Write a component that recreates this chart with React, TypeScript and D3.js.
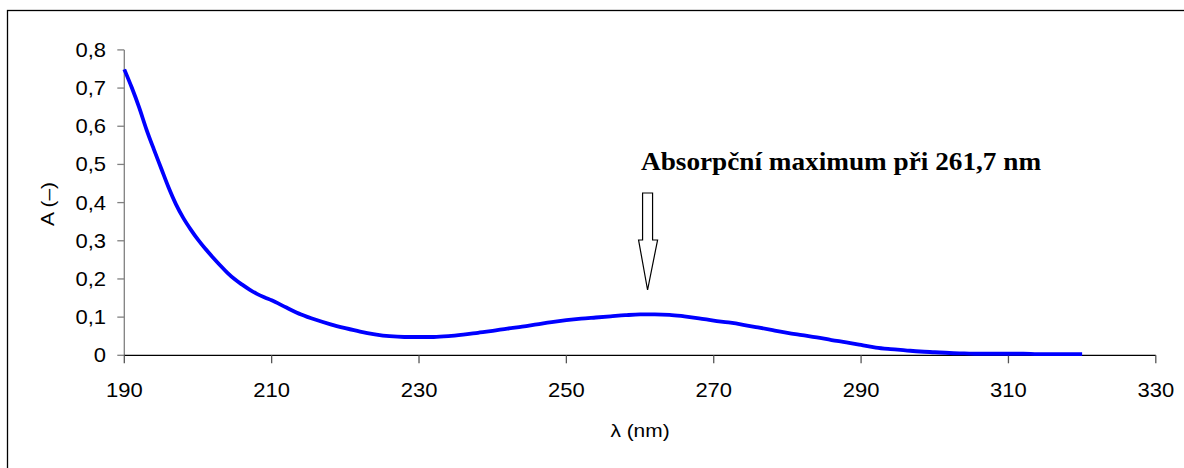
import React from "react";
import * as d3 from "d3";

const wavelengths = [190,191,192,193,194,195,196,197,198,199,200,201,202,203,204,205,206,207,208,209,210,212,214,216,218,220,222,224,226,228,230,232,234,236,238,240,242,244,246,248,250,252,254,256,258,260,262,264,266,268,270,272,274,276,278,280,282,284,286,288,290,292,294,296,298,300,302,304,306,308,310,312,314,316,318,320];
const absorbance = [0.749,0.702,0.65,0.592,0.54,0.49,0.44,0.396,0.36,0.33,0.303,0.279,0.257,0.236,0.216,0.199,0.185,0.172,0.161,0.152,0.144,0.125,0.107,0.093,0.081,0.071,0.062,0.055,0.05,0.048,0.048,0.048,0.05,0.054,0.059,0.064,0.07,0.075,0.081,0.087,0.092,0.096,0.099,0.102,0.105,0.107,0.107,0.106,0.102,0.097,0.091,0.086,0.08,0.073,0.066,0.059,0.053,0.047,0.04,0.034,0.027,0.02,0.016,0.013,0.01,0.008,0.006,0.005,0.004,0.004,0.004,0.004,0.003,0.003,0.003,0.003];
const xTicks = [190,210,230,250,270,290,310,330];
const yTicks = [0,0.1,0.2,0.3,0.4,0.5,0.6,0.7,0.8];
const annotationText = "Absorpční maximum při 261,7 nm";
const arrowAt = 261.7;

const W = 1184, H = 468;
const SX = 1.1;

export default function App() {
  const x = d3.scaleLinear().domain([190, 330]).range([124.3, 1155.8]);
  const y = d3.scaleLinear().domain([0, 0.8]).range([355.3, 49.9]);
  const pts = wavelengths.map((w, i) => [w, absorbance[i]] as [number, number]);
  const line = d3.line<[number, number]>().x(d => x(d[0])).y(d => y(d[1])).curve(d3.curveMonotoneX);
  const fmt = (v: number) => (v === 0 ? "0" : d3.format(".1f")(v).replace(".", ","));
  const ax = x(arrowAt) - 5;
  const arrow = [
    [ax - 5, 193], [ax + 5, 193], [ax + 5, 240], [ax + 10, 240], [ax, 290], [ax - 9, 240], [ax - 5, 240]
  ].map(p => p.join(",")).join(" ");
  const sans = "Arial, 'Liberation Sans', sans-serif";
  return (
    <svg width={W} height={H} style={{ position: "absolute", left: 0, top: 0, background: "#fff" }}>
      <rect x={7.5} y={10.5} width={1300} height={600} fill="#fff" stroke="#000" strokeWidth={1.3} />
      {/* y axis */}
      <line x1={x(190)} x2={x(190)} y1={y(0)} y2={y(0.8)} stroke="#808080" strokeWidth={1.3} />
      {yTicks.map(t => (
        <g key={"y" + t}>
          <line x1={x(190) - 7} x2={x(190)} y1={y(t)} y2={y(t)} stroke="#808080" strokeWidth={1.3} />
          <text transform={`translate(${106},${y(t) + 7}) scale(${SX},1)`} textAnchor="end" fontFamily={sans} fontSize={20} fill="#000">{fmt(t)}</text>
        </g>
      ))}
      {/* x axis */}
      <line x1={x(190)} x2={x(330)} y1={y(0)} y2={y(0)} stroke="#000" strokeWidth={1.3} />
      {xTicks.map(t => (
        <g key={"x" + t}>
          <line x1={x(t)} x2={x(t)} y1={y(0)} y2={y(0) + 8} stroke="#555" strokeWidth={1.3} />
          <text transform={`translate(${x(t)},${397}) scale(${SX},1)`} textAnchor="middle" fontFamily={sans} fontSize={20} fill="#000">{t}</text>
        </g>
      ))}
      <text transform={`translate(${640},${437}) scale(${SX},1)`} textAnchor="middle" fontFamily={sans} fontSize={19} fill="#000">λ (nm)</text>
      <text transform={`translate(${54},${204}) rotate(-90) scale(${SX},1)`} textAnchor="middle" fontFamily={sans} fontSize={19} fill="#000">A (–)</text>
      <path d={line(pts) || ""} fill="none" stroke="#0000FF" strokeWidth={3.8} strokeLinejoin="round" />
      <polygon points={arrow} fill="#fff" stroke="#000" strokeWidth={1.2} />
      <text transform={`translate(${641},${169.5}) scale(1.09,1)`} fontFamily="'Times New Roman', 'Liberation Serif', serif" fontWeight="bold" fontSize={25} fill="#000">{annotationText}</text>
    </svg>
  );
}
